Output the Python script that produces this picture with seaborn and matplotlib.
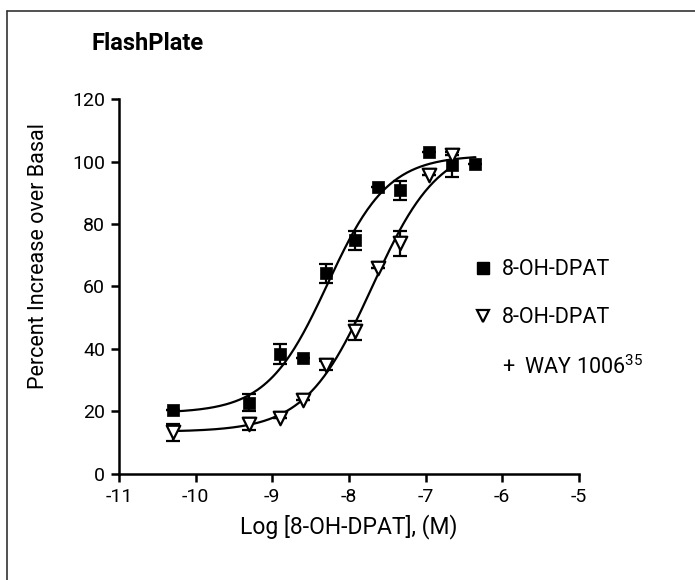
import matplotlib
matplotlib.use("Agg")
import matplotlib.pyplot as plt
from matplotlib.lines import Line2D
import seaborn as sns
import numpy as np
import pandas as pd

# filled squares: 8-OH-DPAT
sq_x = [-10.3, -9.3, -8.9, -8.6, -8.3, -7.92, -7.62, -7.34, -6.95, -6.66, -6.35]
sq_y = [20.5, 22.8, 38.5, 37.0, 64.2, 74.8, 91.8, 90.8, 103.0, 99.0, 99.2]
sq_err = [0, 2.8, 3.2, 0, 3.0, 3.0, 0, 3.0, 0, 4.0, 0]

# open triangles: 8-OH-DPAT + WAY 100635
tri_x = [-10.3, -9.3, -8.9, -8.6, -8.3, -7.92, -7.62, -7.34, -6.95, -6.66]
tri_y = [13.3, 16.0, 17.8, 23.8, 34.8, 45.8, 66.0, 73.8, 95.8, 102.0]
tri_err = [2.8, 2.0, 0, 0, 1.5, 3.0, 0, 4.0, 0, 0]

# sigmoid fit parameters (bottom, top, logEC50, hill) and fitted range
sq_fit = (19.5, 102.0, -8.28, 1.1)
sq_range = (-10.3, -6.35)
tri_fit = (13.5, 106.0, -7.70, 1.0)
tri_range = (-10.3, -6.66)

x_ticks = [-11, -10, -9, -8, -7, -6, -5]
y_ticks = [0, 20, 40, 60, 80, 100, 120]


def sigmoid(x, p):
    bottom, top, ec50, hill = p
    return bottom + (top - bottom) / (1 + 10 ** ((ec50 - x) * hill))


sns.set_style("ticks", {"text.color": "black", "axes.labelcolor": "black",
                        "xtick.color": "black", "ytick.color": "black",
                        "axes.edgecolor": "black"})
plt.rcParams["font.family"] = ["Roboto", "DejaVu Sans"]
plt.rcParams["mathtext.fontset"] = "custom"
plt.rcParams["mathtext.rm"] = "Roboto"

fig = plt.figure(figsize=(6.95, 5.8), dpi=100)
ax = fig.add_axes([0.1712, 0.1828, 0.6618, 0.6465])

curves = []
for name, p, (a, b) in [("sq", sq_fit, sq_range), ("tri", tri_fit, tri_range)]:
    xs = np.linspace(a, b, 200)
    curves.append(pd.DataFrame({"x": xs, "y": sigmoid(xs, p), "s": name}))
df_curve = pd.concat(curves)
sns.lineplot(data=df_curve, x="x", y="y", units="s", estimator=None,
             color="black", lw=1.6, ax=ax, zorder=2)

ax.errorbar(sq_x, sq_y, yerr=sq_err, fmt="none", ecolor="black",
            elinewidth=1.6, capsize=5, capthick=1.6, zorder=3)
ax.errorbar(tri_x, tri_y, yerr=tri_err, fmt="none", ecolor="black",
            elinewidth=1.6, capsize=5, capthick=1.6, zorder=3)

sns.scatterplot(x=sq_x, y=sq_y, marker="s", s=75, color="black",
                edgecolor="black", linewidth=0.5, ax=ax, zorder=4)
sns.scatterplot(x=tri_x, y=tri_y, marker="v", s=95, color="white",
                edgecolor="black", linewidth=1.6, ax=ax, zorder=4)

ax.set_xlim(-11, -5)
ax.set_ylim(0, 120)
ax.set_xticks(x_ticks)
ax.set_yticks(y_ticks)
ax.set_xticklabels([str(t) for t in x_ticks])
sns.despine(ax=ax)
for s in ["left", "bottom"]:
    ax.spines[s].set_linewidth(1.8)
ax.tick_params(width=1.8, length=6, labelsize=14, pad=4)

ax.set_xlabel("Log [8-OH-DPAT], (M)", fontsize=16.5, labelpad=6)
ax.set_ylabel("Percent Increase over Basal", fontsize=15.5)
ax.yaxis.set_label_coords(-0.152, 0.58)
fig.text(0.132, 0.925, "FlashPlate", fontsize=17, fontweight="bold",
         ha="left", va="center")

handles = [
    Line2D([], [], marker="s", ls="none", color="black", markersize=8),
    Line2D([], [], marker="v", ls="none", markerfacecolor="white",
           markeredgecolor="black", markeredgewidth=1.6, markersize=9),
    Line2D([], [], ls="none"),
]
labels = ["8-OH-DPAT", "8-OH-DPAT", "+  WAY 1006$^{35}$"]
ax.legend(handles, labels, loc="center left", bbox_to_anchor=(0.725, 0.413),
          frameon=False, fontsize=15.5, labelspacing=1.25, handlelength=1.0,
          handletextpad=0.4)

# page frame (left and top edges)
fig.add_artist(Line2D([7 / 695, 7 / 695], [0, 1 - 11 / 580],
                      transform=fig.transFigure, color="#333333", lw=1.2))
fig.add_artist(Line2D([7 / 695, 1], [1 - 11 / 580, 1 - 11 / 580],
                      transform=fig.transFigure, color="#333333", lw=1.2))

fig.savefig("out.png", dpi=100)
